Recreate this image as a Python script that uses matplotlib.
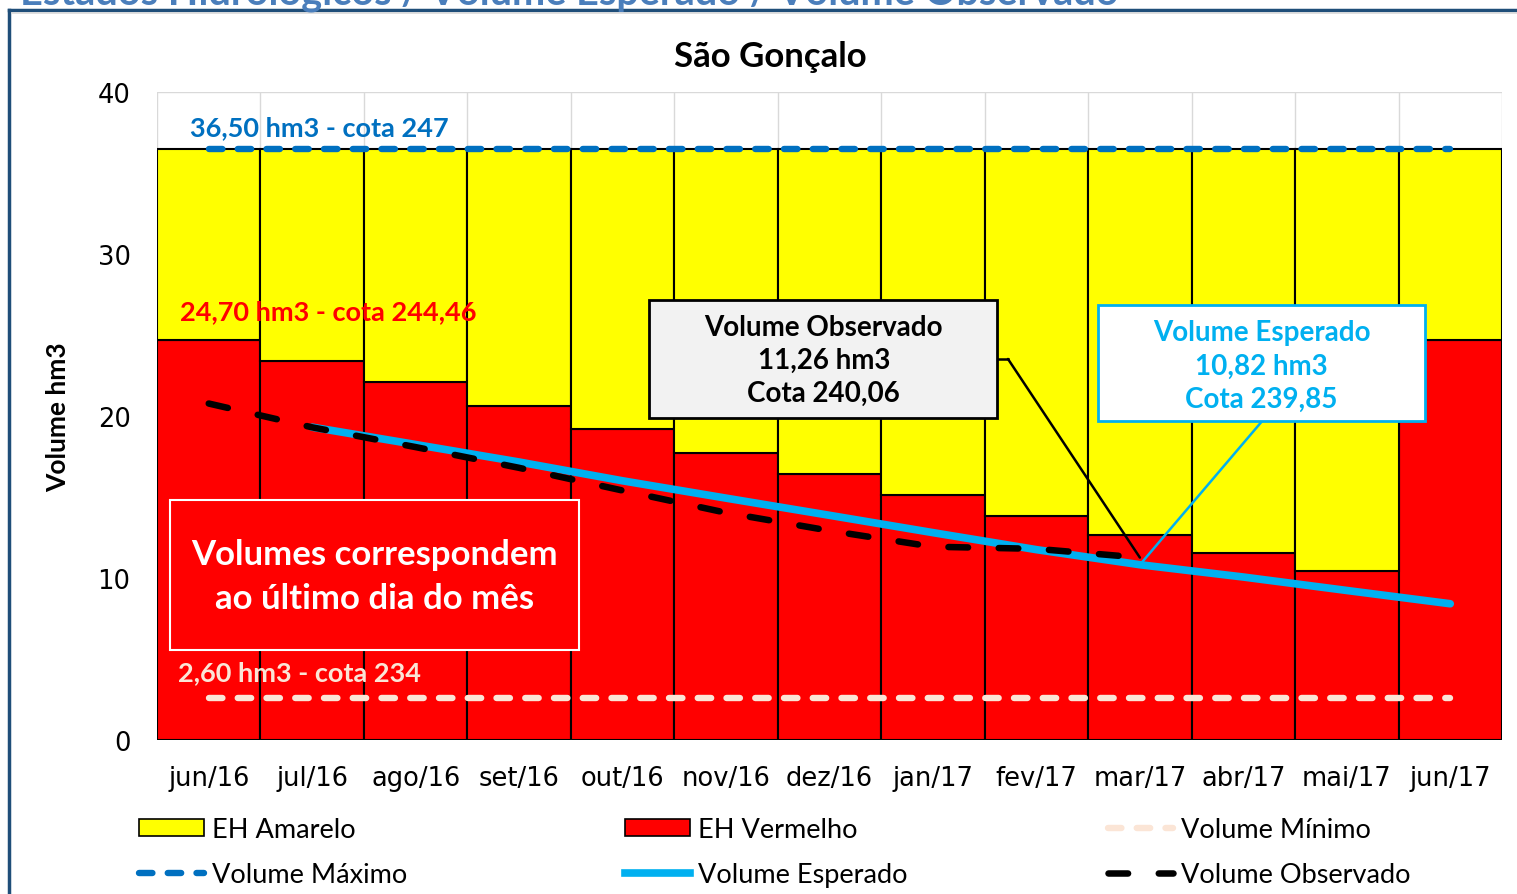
import matplotlib
matplotlib.use('Agg')
import matplotlib.pyplot as plt
from matplotlib.lines import Line2D
from matplotlib.patches import Patch, Rectangle
import numpy as np

months = ['jun/16', 'jul/16', 'ago/16', 'set/16', 'out/16', 'nov/16', 'dez/16',
          'jan/17', 'fev/17', 'mar/17', 'abr/17', 'mai/17', 'jun/17']
eh_vermelho = [24.70, 23.41, 22.11, 20.63, 19.18, 17.70, 16.45,
               15.10, 13.83, 12.65, 11.54, 10.45, 24.70]
vol_maximo = 36.50
vol_minimo = 2.60
eh_amarelo = [vol_maximo - v for v in eh_vermelho]
vol_esperado = [np.nan, 19.31, 18.24, 17.16, 16.00, 14.93, 13.87,
                12.80, 11.75, 10.82, 10.06, 9.23, 8.41]
vol_observado = [20.77, 19.30, 18.08, 16.80, 15.40, 14.03, 12.92,
                 11.93, 11.80, 11.26, np.nan, np.nan, np.nan]

YELLOW = '#FFFF00'
RED = '#FF0000'
CYAN = '#00B0F0'
BLUE = '#0070C0'
PEACH = '#FBE5D6'
TXT = 'Lato'

fig = plt.figure(figsize=(15.17, 8.95), dpi=100)
ax = fig.add_axes([157/1517, 1-741/895, 1345/1517, 648/895])

x = np.arange(len(months))
ax.bar(x, eh_vermelho, width=1.0, color=RED, edgecolor='black', lw=1.5, zorder=2)
ax.bar(x, eh_amarelo, bottom=eh_vermelho, width=1.0, color=YELLOW,
       edgecolor='black', lw=1.5, zorder=2)

ax.plot(x, [vol_maximo]*len(x), color=BLUE, lw=4.6, dashes=(2.1, 2.4),
        dash_capstyle='round', zorder=4)
ax.plot(x, [vol_minimo]*len(x), color=PEACH, lw=4.6, dashes=(2.1, 2.4),
        dash_capstyle='round', zorder=4)
ax.plot(x, vol_esperado, color=CYAN, lw=5.5, solid_capstyle='round', zorder=5)
ax.plot(x, vol_observado, color='black', lw=4.7, dashes=(3.0, 4.7),
        dash_capstyle='round', zorder=6)

ax.set_xlim(-0.5, len(months)-0.5)
ax.set_ylim(0, 40)
ax.set_yticks([0, 10, 20, 30, 40])
ax.set_xticks(x)
ax.set_xticklabels(months)
ax.set_xticks(np.arange(-0.5, len(months)), minor=True)
ax.tick_params(axis='both', length=0, labelsize=18.5, colors='black')
ax.tick_params(axis='x', pad=18)
ax.tick_params(axis='y', pad=19)
ax.tick_params(which='minor', length=0)
ax.grid(axis='x', which='minor', color='#D9D9D9', lw=1, zorder=0)
ax.grid(axis='y', which='major', color='#D9D9D9', lw=1, zorder=0)
for s in ax.spines.values():
    s.set_visible(False)
ax.set_ylabel('Volume hm3', fontsize=19, fontweight='bold', family=TXT, labelpad=20)

fig.text(770/1517, 1-57/895, 'São Gonçalo', fontsize=25, fontweight='bold',
         family=TXT, ha='center', va='center')

# reference line labels
ax.text(-0.18, 37.8, '36,50 hm3 - cota 247', color=BLUE, fontsize=19.5,
        fontweight='bold', family=TXT, va='center', zorder=7)
ax.text(-0.28, 26.5, '24,70 hm3 - cota 244,46', color=RED, fontsize=19.5,
        fontweight='bold', family=TXT, va='center', zorder=7)
ax.text(-0.30, 4.2, '2,60 hm3 - cota 234', color=PEACH, fontsize=19.5,
        fontweight='bold', family=TXT, va='center', zorder=7)

# note box
ax.add_patch(Rectangle((0.0097, 0.139), 0.3041, 0.231, transform=ax.transAxes,
                       facecolor=RED, edgecolor='white', lw=1.5, zorder=8))
ax.text(0.1617, 0.2525, 'Volumes correspondem\nao último dia do mês',
        transform=ax.transAxes, ha='center', va='center', color='white',
        fontsize=25, fontweight='bold', family=TXT, linespacing=1.46, zorder=9)

# observado callout
ax.add_patch(Rectangle((0.3658, 0.497), 0.2587, 0.182, transform=ax.transAxes,
                       facecolor='#F2F2F2', edgecolor='black', lw=2, zorder=8))
ax.text(0.4957, 0.586, 'Volume Observado\n11,26 hm3\nCota 240,06',
        transform=ax.transAxes, ha='center', va='center', color='black',
        fontsize=20, fontweight='bold', family=TXT, linespacing=1.33, zorder=9)
ax.plot([0.6245, 0.6327], [0.588, 0.588], color='black', lw=1.8,
        transform=ax.transAxes, zorder=7)
ax.annotate('', xy=(9, vol_observado[9]), xycoords='data',
            xytext=(0.6327, 0.588), textcoords='axes fraction',
            arrowprops=dict(arrowstyle='-', color='black', lw=1.8,
                            shrinkA=0, shrinkB=0), zorder=7)

# esperado callout
ax.add_patch(Rectangle((0.6996, 0.492), 0.2432, 0.179, transform=ax.transAxes,
                       facecolor='white', edgecolor=CYAN, lw=2, zorder=8))
ax.text(0.8212, 0.578, 'Volume Esperado\n10,82 hm3\nCota 239,85',
        transform=ax.transAxes, ha='center', va='center', color=CYAN,
        fontsize=20, fontweight='bold', family=TXT, linespacing=1.35, zorder=9)
ax.annotate('', xy=(9, vol_esperado[9]), xycoords='data',
            xytext=(0.8216, 0.492), textcoords='axes fraction',
            arrowprops=dict(arrowstyle='-', color=CYAN, lw=1.8,
                            shrinkA=0, shrinkB=0), zorder=7)

# legends, one per column
h_am = Patch(facecolor=YELLOW, edgecolor='black', lw=1.2)
h_ve = Patch(facecolor=RED, edgecolor='black', lw=1.2)
h_mi = Line2D([], [], color=PEACH, lw=4.6, dashes=(2.1, 2.4), dash_capstyle='round')
h_ma = Line2D([], [], color=BLUE, lw=4.6, dashes=(2.1, 2.4), dash_capstyle='round')
h_es = Line2D([], [], color=CYAN, lw=5.5)
h_ob = Line2D([], [], color='black', lw=4.7, dashes=(3.0, 4.7), dash_capstyle='round')
cols = [([h_am, h_ma], ['EH Amarelo', 'Volume Máximo'], 139),
        ([h_ve, h_es], ['EH Vermelho', 'Volume Esperado'], 625),
        ([h_mi, h_ob], ['Volume Mínimo', 'Volume Observado'], 1108)]
for handles, labels, px in cols:
    fig.legend(handles, labels, loc='upper left',
               bbox_to_anchor=(px/1517, 1-818/895), frameon=False,
               prop={'family': TXT, 'size': 19.5}, handlelength=2.4,
               handleheight=0.6, handletextpad=0.3, labelspacing=0.74,
               borderpad=0, borderaxespad=0)

# outer frame and clipped page title
fig.add_artist(Line2D([9/1517, 9/1517], [0, 1-11/895], color='#1F4E79', lw=2.5))
fig.add_artist(Line2D([9/1517, 1], [1-11/895, 1-11/895], color='#1F4E79', lw=2.5))
fig.add_artist(Line2D([12/1517, 1], [1-14/895, 1-14/895], color='#D9D9D9', lw=1.2))
fig.text(20/1517, 1-5/895, 'Estados Hidrológicos / Volume Esperado / Volume Observado',
         color='#4A7EBB', fontsize=28.5, fontweight='bold', family=TXT,
         va='baseline', ha='left')

fig.savefig('out.png', dpi=100)
